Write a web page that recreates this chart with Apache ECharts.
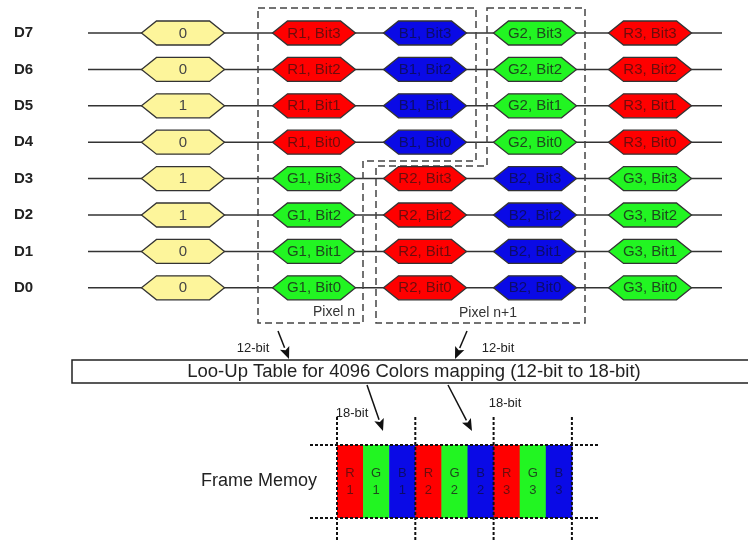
<!DOCTYPE html>
<html><head><meta charset="utf-8">
<script src="https://cdn.jsdelivr.net/npm/echarts@6/dist/echarts.min.js"></script>
<style>html,body{margin:0;padding:0;background:#fff}#c{width:748px;height:541px}</style>
</head><body><div id="c"></div>
<script>
// ---------- data ----------
const rowLabels = ['D7','D6','D5','D4','D3','D2','D1','D0'];
const inputBits = ['0','0','1','0','1','1','0','0'];
const col2 = ['R1, Bit3','R1, Bit2','R1, Bit1','R1, Bit0','G1, Bit3','G1, Bit2','G1, Bit1','G1, Bit0'];
const col3 = ['B1, Bit3','B1, Bit2','B1, Bit1','B1, Bit0','R2, Bit3','R2, Bit2','R2, Bit1','R2, Bit0'];
const col4 = ['G2, Bit3','G2, Bit2','G2, Bit1','G2, Bit0','B2, Bit3','B2, Bit2','B2, Bit1','B2, Bit0'];
const col5 = ['R3, Bit3','R3, Bit2','R3, Bit1','R3, Bit0','G3, Bit3','G3, Bit2','G3, Bit1','G3, Bit0'];
const pixelLabels = ['Pixel n','Pixel n+1'];
const busLabels = ['12-bit','12-bit','18-bit','18-bit'];
const lutTitle = 'Loo-Up Table for 4096 Colors mapping (12-bit to 18-bit)';
const memoryTitle = 'Frame Memoy';
const memoryCells = ['R1','G1','B1','R2','G2','B2','R3','G3','B3'];

// ---------- layout & style ----------
const FONT = "'Liberation Sans', Arial, sans-serif";
const L = {
  rowY0: 33, rowStep: 36.4, labelX: 14, lineX0: 88, lineX1: 722,
  colX: [183, 314, 425, 535, 650], hexW: 83, hexH: 24, hexInset: 15,
  pixN: [[258,8],[476,8],[476,161],[363,161],[363,323],[258,323]],
  pixN1: [[487,8],[585,8],[585,323],[376,323],[376,166],[487,166]],
  pixLabelPos: [[355,312,'right'],[488,313,'center']],
  arrows: [[[278,331],[289,359]],[[467,331],[455,359]],[[367,385],[383,431]],[[448,385],[472,431]]],
  busLabelPos: [[253,348],[498,348],[352,413],[505,403]],
  lut: {x0:72, x1:760, y0:360, y1:383},
  mem: {x0:337, cw:26.1, y0:445, y1:518, lx0:310, lx1:598, vy0:417, vy1:541, titleX:259, titleY:481}
};
const rowY = i => L.rowY0 + i * L.rowStep;
const fills = {R:'#ff0000', G:'#22f522', B:'#0a0ae6', Y:'#fdf59b'};
const inks = {R:'#6e0c0c', G:'#1d4a1d', B:'#0c0c6a', Y:'#444444'};
const kindOf = s => /^[RGB]/.test(s) ? s[0] : 'Y';

// ---------- build series data ----------
const columns = [inputBits, col2, col3, col4, col5];
const hexItems = [];
columns.forEach((col, c) => col.forEach((lab, r) => hexItems.push({value:[L.colX[c], rowY(r)], lab})));
const rowItems = rowLabels.map((lab, r) => ({value:[L.labelX, rowY(r)], lab}));

const option = {
  animation: false,
  grid: {left:0, right:0, top:0, bottom:0},
  xAxis: {type:'value', min:0, max:748, show:false},
  yAxis: {type:'value', min:0, max:541, inverse:true, show:false},
  series: [
    { // signal lines + row labels
      type:'custom', coordinateSystem:'cartesian2d', data: rowItems.map(d=>d.value),
      renderItem(params, api){
        const it = rowItems[params.dataIndex];
        const a = api.coord([L.lineX0, it.value[1]]), b = api.coord([L.lineX1, it.value[1]]);
        const t = api.coord(it.value);
        return {type:'group', children:[
          {type:'line', shape:{x1:a[0],y1:a[1],x2:b[0],y2:b[1]}, style:{stroke:'#333', lineWidth:1.5}},
          {type:'text', style:{text:it.lab, x:t[0], y:t[1], align:'left', verticalAlign:'middle', font:'bold 15px '+FONT, fill:'#222'}}
        ]};
      }
    },
    { // dashed pixel frames
      type:'custom', coordinateSystem:'cartesian2d', data:[[0,0],[1,0]],
      renderItem(params, api){
        const poly = [L.pixN, L.pixN1][params.dataIndex].map(p=>api.coord(p));
        const lp = L.pixLabelPos[params.dataIndex];
        const tp = api.coord([lp[0], lp[1]]);
        return {type:'group', children:[
          {type:'polygon', shape:{points:poly}, style:{fill:null, stroke:'#444', lineWidth:1.5, lineDash:[7,4]}},
          {type:'text', style:{text:pixelLabels[params.dataIndex], x:tp[0], y:tp[1], align:lp[2], verticalAlign:'middle', font:'14px '+FONT, fill:'#333'}}
        ]};
      }
    },
    { // hexagon cells
      type:'custom', coordinateSystem:'cartesian2d', data: hexItems.map(d=>d.value),
      renderItem(params, api){
        const it = hexItems[params.dataIndex];
        const c = api.coord(it.value);
        const w = L.hexW/2, h = L.hexH/2, k = L.hexInset;
        const pts = [[c[0]-w,c[1]],[c[0]-w+k,c[1]-h],[c[0]+w-k,c[1]-h],[c[0]+w,c[1]],[c[0]+w-k,c[1]+h],[c[0]-w+k,c[1]+h]];
        const kd = kindOf(it.lab);
        return {type:'group', children:[
          {type:'polygon', shape:{points:pts}, style:{fill:fills[kd], stroke:'#333', lineWidth:1.3}},
          {type:'text', style:{text:it.lab, x:c[0], y:c[1]+0.5, align:'center', verticalAlign:'middle', font:'15px '+FONT, fill:inks[kd]}}
        ]};
      }
    },
    { // LUT box
      type:'custom', coordinateSystem:'cartesian2d', data:[[0,0]],
      renderItem(params, api){
        const a = api.coord([L.lut.x0, L.lut.y0]), b = api.coord([L.lut.x1, L.lut.y1]);
        return {type:'group', children:[
          {type:'rect', shape:{x:a[0], y:a[1], width:b[0]-a[0], height:b[1]-a[1]}, style:{fill:'#fff', stroke:'#222', lineWidth:1.5}},
          {type:'text', style:{text:lutTitle, x:414, y:(a[1]+b[1])/2+0.5, align:'center', verticalAlign:'middle', font:'18.5px '+FONT, fill:'#222'}}
        ]};
      }
    },
    { // arrows
      type:'custom', coordinateSystem:'cartesian2d', data: L.arrows.map((a,i)=>[i,0]),
      renderItem(params, api){
        const i = params.dataIndex;
        const p0 = api.coord(L.arrows[i][0]), p1 = api.coord(L.arrows[i][1]);
        const dx = p1[0]-p0[0], dy = p1[1]-p0[1], len = Math.hypot(dx,dy), ux = dx/len, uy = dy/len;
        const hl = 12, hw = 5;
        const bx = p1[0]-ux*hl, by = p1[1]-uy*hl;
        const lp = api.coord(L.busLabelPos[i]);
        return {type:'group', children:[
          {type:'line', shape:{x1:p0[0],y1:p0[1],x2:bx,y2:by}, style:{stroke:'#111', lineWidth:1.5}},
          {type:'polygon', shape:{points:[[p1[0],p1[1]],[bx-uy*hw,by+ux*hw],[bx+ux*2.5,by+uy*2.5],[bx+uy*hw,by-ux*hw]]}, style:{fill:'#111'}},
          {type:'text', style:{text:busLabels[i], x:lp[0], y:lp[1], align:'center', verticalAlign:'middle', font:'13px '+FONT, fill:'#222'}}
        ]};
      }
    },
    { // frame memory cells
      type:'custom', coordinateSystem:'cartesian2d', data: memoryCells.map((c,i)=>[L.mem.x0 + i*L.mem.cw, L.mem.y0]),
      renderItem(params, api){
        const lab = memoryCells[params.dataIndex], kd = lab[0];
        const a = api.coord([api.value(0), L.mem.y0]), b = api.coord([api.value(0)+L.mem.cw, L.mem.y1]);
        const cx = (a[0]+b[0])/2, cy = (a[1]+b[1])/2;
        return {type:'group', children:[
          {type:'rect', shape:{x:a[0], y:a[1], width:b[0]-a[0]+0.5, height:b[1]-a[1]}, style:{fill:fills[kd]}},
          {type:'text', style:{text:lab[0]+'\n'+lab.slice(1), x:cx, y:cy, align:'center', verticalAlign:'middle', lineHeight:17, font:'13px '+FONT, fill:inks[kd]}}
        ]};
      }
    },
    { // frame memory dotted grid + title
      type:'custom', coordinateSystem:'cartesian2d', data:[[0,0]],
      renderItem(params, api){
        const m = L.mem, ch = [];
        const dot = {stroke:'#111', lineWidth:2, lineDash:[3,2]};
        [m.y0, m.y1].forEach(y => {
          const a = api.coord([m.lx0, y]), b = api.coord([m.lx1, y]);
          ch.push({type:'line', shape:{x1:a[0],y1:a[1],x2:b[0],y2:b[1]}, style:dot});
        });
        [0,3,6,9].forEach(k => {
          const x = m.x0 + k*m.cw;
          const a = api.coord([x, m.vy0]), b = api.coord([x, m.vy1]);
          ch.push({type:'line', shape:{x1:a[0],y1:a[1],x2:b[0],y2:b[1]}, style:dot});
        });
        const t = api.coord([m.titleX, m.titleY]);
        ch.push({type:'text', style:{text:memoryTitle, x:t[0], y:t[1], align:'center', verticalAlign:'middle', font:'18px '+FONT, fill:'#222'}});
        return {type:'group', children:ch};
      }
    }
  ]
};
const chart = echarts.init(document.getElementById('c'), null, {renderer:'canvas'});
chart.setOption(option);
</script></body></html>
